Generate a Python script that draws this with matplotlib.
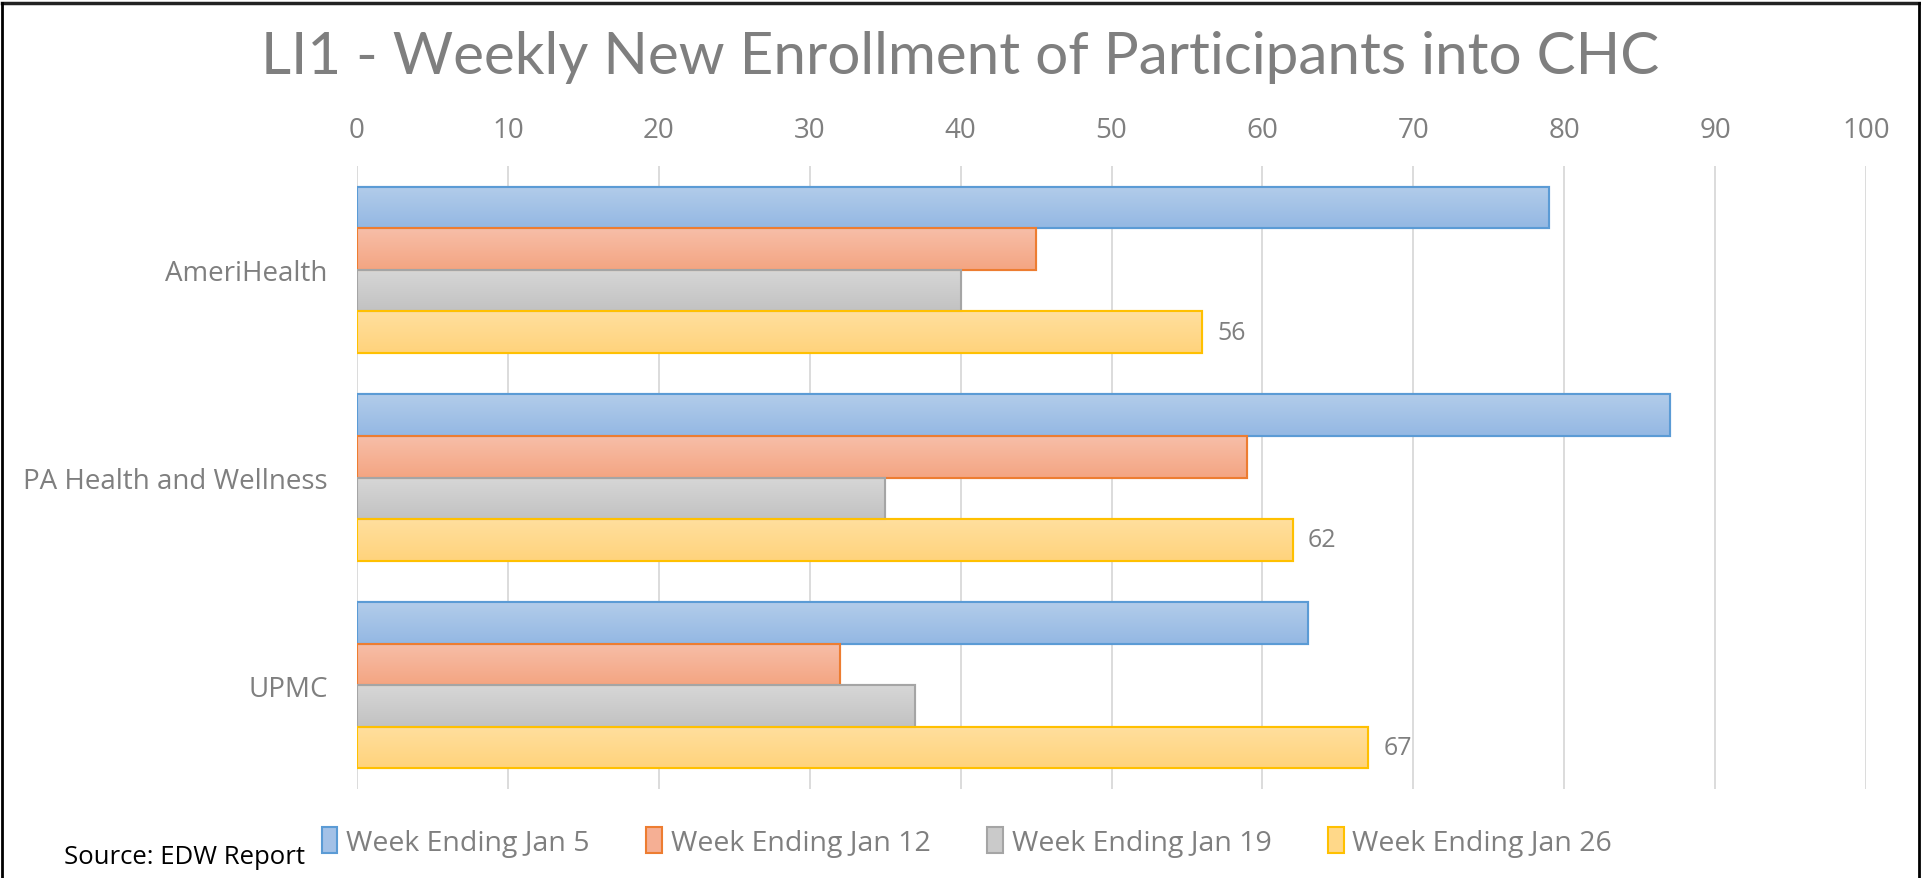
import matplotlib
matplotlib.use("Agg")
import matplotlib.pyplot as plt
from matplotlib.patches import Patch
from matplotlib.lines import Line2D
from matplotlib.colors import LinearSegmentedColormap
import numpy as np

plt.rcParams['font.family'] = ['Open Sans', 'DejaVu Sans']

categories = ["AmeriHealth", "PA Health and Wellness", "UPMC"]
series_names = ["Week Ending Jan 5", "Week Ending Jan 12", "Week Ending Jan 19", "Week Ending Jan 26"]
jan5 = [79, 87, 63]
jan12 = [45, 59, 32]
jan19 = [40, 35, 37]
jan26 = [56, 62, 67]
xticks = [0, 10, 20, 30, 40, 50, 60, 70, 80, 90, 100]

series = [jan5, jan12, jan19, jan26]
fills = ["#A3C1E7", "#F5AF94", "#CACACA", "#FFD889"]
tops = ["#B2CCEA", "#F7BEA8", "#D7D7D7", "#FFDF9E"]
bottoms = ["#94B8E3", "#F4A582", "#C2C2C2", "#FFD37C"]
edges = ["#5B9BD5", "#ED7D31", "#A5A5A5", "#FFC000"]

fig = plt.figure(figsize=(19.21, 8.79), dpi=100)
ax = fig.add_axes([357/1921, 1-790/879, (1866-357)/1921, (790-167)/879])

y = np.arange(len(categories))
h = 0.2
offsets = [-0.3, -0.1, 0.1, 0.3]
grad = np.linspace(0, 1, 64).reshape(-1, 1)
for vals, off, fc, ec, tc, bc in zip(series, offsets, fills, edges, tops, bottoms):
    bars = ax.barh(y + off, vals, height=h, color=fc, edgecolor=ec, linewidth=1.5, zorder=3)
    cmap = LinearSegmentedColormap.from_list("g", [tc, bc])
    for b in bars:
        x0, y0 = b.get_x(), b.get_y()
        w, hh = b.get_width(), b.get_height()
        im = ax.imshow(grad, cmap=cmap, aspect='auto', extent=(x0, x0 + w, y0 + hh, y0),
                       origin='upper', zorder=3.5, interpolation='bilinear')
        im.set_clip_path(b)
        ax.add_patch(plt.Rectangle((x0, y0), w, hh, fill=False, edgecolor=ec, linewidth=1.5, zorder=4))

for yi, v in zip(y, jan26):
    ax.annotate(str(v), (v, yi + 0.3), xytext=(11, 0), textcoords='offset points',
                va='center', ha='left', fontsize=18, color='#7F7F7F')

ax.set_xlim(0, 100)
ax.set_ylim(2.5, -0.5)
ax.set_xticks(xticks)
ax.xaxis.tick_top()
ax.tick_params(axis='x', length=0, labelsize=20, labelcolor='#7F7F7F', pad=16)
ax.set_yticks(y)
ax.set_yticklabels(categories)
ax.tick_params(axis='y', length=0, labelsize=20, labelcolor='#7F7F7F', pad=21)
ax.grid(axis='x', color='#D9D9D9', linewidth=1.3, zorder=0)
ax.set_axisbelow(True)
for s in ax.spines.values():
    s.set_visible(False)

fig.text(0.5, 1-58/879, "LI1 - Weekly New Enrollment of Participants into CHC",
         ha='center', va='center', fontsize=42, color='#7F7F7F', family=['Lato', 'DejaVu Sans'])

handles = [Patch(facecolor=fc, edgecolor=ec, linewidth=1.5) for fc, ec in zip(fills, edges)]
fig.legend(handles, series_names, loc='center', bbox_to_anchor=(0.5034, 1-843/879), ncol=4,
           frameon=False, fontsize=20.5, labelcolor='#7F7F7F', handlelength=0.55, handleheight=1.0,
           handletextpad=0.3, columnspacing=2.0)

fig.text(64/1921, 1-858/879, "Source: EDW Report", ha='left', va='center', fontsize=18.5, color='black')

# border (top, left, right)
fig.add_artist(Line2D([0.001, 0.999], [1-4/879, 1-4/879], transform=fig.transFigure, color='#222222', linewidth=2.5))
fig.add_artist(Line2D([2/1921, 2/1921], [0, 1-4/879], transform=fig.transFigure, color='black', linewidth=2))
fig.add_artist(Line2D([1-2/1921, 1-2/1921], [0, 1-4/879], transform=fig.transFigure, color='black', linewidth=2))

fig.savefig("out.png", dpi=100)
